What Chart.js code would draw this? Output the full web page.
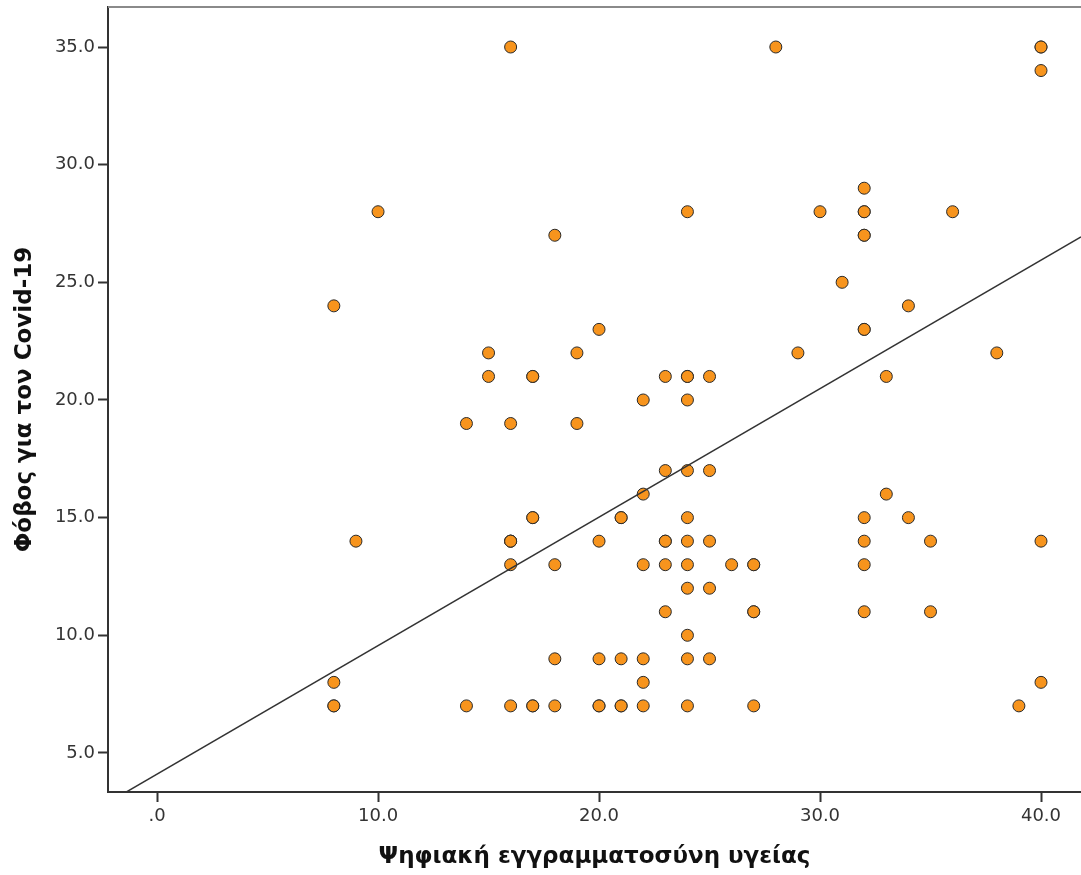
<!DOCTYPE html>
<html>
<head>
<meta charset="utf-8">
<script src="https://cdn.jsdelivr.net/npm/chart.js@4/dist/chart.umd.min.js"></script>
<style>
    html, body { margin: 0; padding: 0; background: #fff; }
</style>
</head>
<body>
<canvas id="chart" width="1081" height="875"></canvas>
<script>
// x: Ψηφιακή εγγραμματοσύνη υγείας, y: Φόβος για τον Covid-19
// repeated pairs = overlapping cases (darker outline in the original)
const literacy = [
    8, 8, 8, 8,
    9,
    10,
    14, 14,
    15, 15,
    16, 16, 16, 16, 16, 16, 16,
    17, 17, 17, 17, 17, 17,
    18, 18, 18, 18,
    19, 19,
    20, 20, 20, 20, 20,
    21, 21, 21, 21, 21,
    22, 22, 22, 22, 22, 22,
    23, 23, 23, 23, 23, 23,
    24, 24, 24, 24, 24, 24, 24, 24, 24, 24, 24, 24,
    25, 25, 25, 25, 25,
    26,
    27, 27, 27, 27, 27,
    28,
    29,
    30,
    31,
    32, 32, 32, 32, 32, 32, 32, 32, 32, 32, 32,
    33, 33,
    34, 34,
    35, 35,
    36,
    38,
    39,
    40, 40, 40, 40, 40
]
const fear = [
    24, 8, 7, 7,
    14,
    28,
    19, 7,
    22, 21,
    35, 19, 14, 14, 14, 13, 7,
    21, 21, 15, 15, 7, 7,
    27, 13, 9, 7,
    22, 19,
    23, 14, 9, 7, 7,
    15, 15, 9, 7, 7,
    20, 16, 13, 9, 8, 7,
    21, 17, 14, 14, 13, 11,
    28, 21, 21, 20, 17, 15, 14, 13, 12, 10, 9, 7,
    21, 17, 14, 12, 9,
    13,
    13, 13, 11, 11, 7,
    35,
    22,
    28,
    25,
    29, 28, 28, 27, 27, 23, 23, 15, 14, 13, 11,
    21, 16,
    24, 15,
    14, 11,
    28,
    22,
    7,
    35, 35, 34, 14, 8
]

// fit line
const fitIntercept = 4.1
const fitSlope = 0.546

const xRange = [-2.22, 41.81]
const yRange = [3.34, 36.7]
const xTicks = [0, 10, 20, 30, 40]
const yTicks = [5, 10, 15, 20, 25, 30, 35]

const xTitle = "Ψηφιακή εγγραμματοσύνη υγείας"
const yTitle = "Φόβος για τον Covid-19"

let fmt = (v) => v === 0 ? ".0" : v.toFixed(1)

// keep the plot box fixed, no extra room for edge labels
let noPad = (s) => {
    s.paddingTop = 0
    s.paddingBottom = 0
    s.paddingLeft = 0
    s.paddingRight = 0
}

let topFrame = {
    id: "topFrame",
    afterDraw: (chart) => {
        const {ctx, chartArea} = chart
        ctx.save()
        ctx.strokeStyle = "#8a8a8a"
        ctx.lineWidth = 2
        ctx.beginPath()
        ctx.moveTo(chartArea.left, chartArea.top)
        ctx.lineTo(chartArea.right, chartArea.top)
        ctx.stroke()
        ctx.restore()
    }
}

const font = "'DejaVu Sans', sans-serif"

new Chart(document.getElementById("chart"), {
    type: "scatter",
    data: {
        datasets: [
            {
                type: "line",
                order: 0,
                data: xRange.map(x => ({x: x, y: fitIntercept + fitSlope * x})),
                borderColor: "#333",
                borderWidth: 1.5,
                pointRadius: 0,
                fill: false,
            },
            {
                order: 1,
                data: literacy.map((x, i) => ({x: x, y: fear[i]})),
                backgroundColor: "#f7941d",
                borderColor: "#2a2a2a",
                borderWidth: 1,
                pointRadius: 6,
            }
        ]
    },
    options: {
        responsive: false,
        devicePixelRatio: 1,
        animation: false,
        layout: { autoPadding: false, padding: { top: 7, left: 0, right: 0, bottom: 0 } },
        plugins: {
            legend: { display: false },
            tooltip: { enabled: false }
        },
        scales: {
            x: {
                type: "linear",
                min: xRange[0],
                max: xRange[1],
                afterBuildTicks: (s) => { s.ticks = xTicks.map(v => ({value: v})) },
                afterFit: (s) => { s.height = 83; noPad(s) },
                ticks: {
                    callback: (v) => fmt(v),
                    font: { family: font, size: 18 },
                    color: "#333",
                    padding: 4,
                    maxRotation: 0,
                },
                grid: {
                    drawOnChartArea: false,
                    tickLength: 10,
                    tickColor: "#333",
                    tickWidth: 2,
                },
                border: { color: "#333", width: 2 },
                title: {
                    display: true,
                    text: xTitle,
                    font: { family: font, size: 23, weight: "bold" },
                    color: "#111",
                    padding: { top: 0, bottom: 4 },
                }
            },
            y: {
                type: "linear",
                min: yRange[0],
                max: yRange[1],
                afterBuildTicks: (s) => { s.ticks = yTicks.map(v => ({value: v})) },
                afterFit: (s) => { s.width = 108; noPad(s) },
                ticks: {
                    callback: (v) => fmt(v),
                    font: { family: font, size: 18 },
                    color: "#333",
                    padding: 3,
                },
                grid: {
                    drawOnChartArea: false,
                    tickLength: 10,
                    tickColor: "#333",
                    tickWidth: 2,
                },
                border: { color: "#333", width: 2 },
                title: {
                    display: true,
                    text: yTitle,
                    font: { family: font, size: 23, weight: "bold" },
                    color: "#111",
                    padding: { top: 11, bottom: 0 },
                }
            }
        }
    },
    plugins: [topFrame]
})
</script>
</body>
</html>
